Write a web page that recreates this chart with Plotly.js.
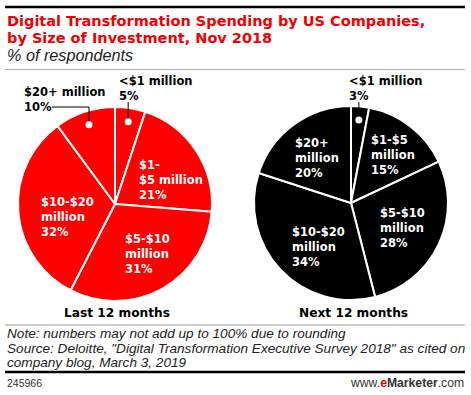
<!DOCTYPE html>
<html>
<head>
<meta charset="utf-8">
<script src="https://cdn.plot.ly/plotly-3.0.1.min.js"></script>
<style>html,body{margin:0;padding:0;background:#fff;}#chart{width:471px;height:395px;}</style>
</head>
<body>
<div id="chart"></div>
<script>
// ---- data ----
const categories = ["<$1 million", "$1-$5 million", "$5-$10 million", "$10-$20 million", "$20+ million"];
const last12 = [5, 21, 31, 32, 10];
const next12 = [3, 15, 28, 34, 20];
const last12Labels = ["<$1 million", "$1-<br>$5 million", "$5-$10<br>million", "$10-$20<br>million", "$20+ million"];
const next12Labels = ["<$1 million", "$1-$5<br>million", "$5-$10<br>million", "$10-$20<br>million", "$20+<br>million"];
const pieTitles = ["Last 12 months", "Next 12 months"];

// ---- geometry / style ----
const W = 471, H = 395;
const px = x => x / W;
const py = y => 1 - y / H;
const LBL = {family: "DejaVu Sans", size: 11.5, weight: 700};

const pies = [
  {vals: last12, labels: last12Labels, cx: 115, cy: 204, R: 97, color: "#ff0000", txt: "#ffffff",
   pos: [[117, 89], [137, 180], [123, 254], [39, 217], [22, 99]], outside: [0, 4]},
  {vals: next12, labels: next12Labels, cx: 351, cy: 203, R: 97, color: "#000000", txt: "#ffffff",
   pos: [[347, 89], [369, 155], [378, 228], [290, 247], [293, 158]], outside: [0]}
];

const traces = [];
const annotations = [];
const shapes = [];

pies.forEach((p, k) => {
  traces.push({
    type: "pie", values: p.vals, labels: categories, sort: false, direction: "clockwise", rotation: 0,
    marker: {colors: p.vals.map(() => p.color), line: {color: "#ffffff", width: 2}},
    textinfo: "none", hoverinfo: "none", showlegend: false,
    domain: {x: [px(p.cx - p.R), px(p.cx + p.R)], y: [py(p.cy + p.R), py(p.cy - p.R)]}
  });
  const total = p.vals.reduce((a, b) => a + b, 0);
  let cum = 0;
  p.vals.forEach((v, i) => {
    const mid = (cum + v / 2) / total * 2 * Math.PI;
    cum += v;
    const isOut = p.outside.indexOf(i) >= 0;
    annotations.push({
      xref: "paper", yref: "paper", x: px(p.pos[i][0]), y: py(p.pos[i][1]),
      xanchor: "left", yanchor: "middle", align: "left", showarrow: false,
      text: p.labels[i] + "<br>" + v + "%",
      font: Object.assign({}, LBL, {color: isOut ? "#000000" : p.txt})
    });
    if (isOut) {
      const dx = p.cx + 0.86 * p.R * Math.sin(mid);
      const dy = p.cy - 0.86 * p.R * Math.cos(mid);
      if (i === 0) {
        shapes.push({type: "line", xref: "paper", yref: "paper", x0: px(dx), x1: px(dx), y0: py(dy), y1: py(p.pos[i][1] + 13), line: {color: "#000", width: 1}});
      } else {
        const ly = p.pos[i][1] + 8;
        shapes.push({type: "path", xref: "paper", yref: "paper",
          path: "M" + px(52) + "," + py(ly) + " L" + px(dx) + "," + py(ly) + " L" + px(dx) + "," + py(dy),
          line: {color: "#000", width: 1}});
      }
      shapes.push({type: "circle", xref: "paper", yref: "paper", x0: px(dx - 3.5), x1: px(dx + 3.5), y0: py(dy + 3.5), y1: py(dy - 3.5),
        fillcolor: "#ffffff", line: {width: 0}});
    }
  });
  annotations.push({xref: "paper", yref: "paper", x: px(p.cx + 2), y: py(313), xanchor: "center", yanchor: "middle",
    showarrow: false, text: pieTitles[k], font: {family: "DejaVu Sans", size: 12.2, weight: 700, color: "#000"}});
});

// titles
const titleFont = {family: "DejaVu Sans", size: 14.5, weight: 700, color: "#f00000"};
annotations.push({xref: "paper", yref: "paper", x: px(5), y: py(21), xanchor: "left", yanchor: "middle", showarrow: false,
  text: "Digital Transformation Spending by US Companies,", font: titleFont});
annotations.push({xref: "paper", yref: "paper", x: px(5), y: py(38), xanchor: "left", yanchor: "middle", showarrow: false,
  text: "by Size of Investment, Nov 2018", font: titleFont});
annotations.push({xref: "paper", yref: "paper", x: px(5), y: py(55.5), xanchor: "left", yanchor: "middle", showarrow: false,
  text: "<i>% of respondents</i>", font: {family: "Liberation Sans", size: 16.2, color: "#222"}});

// footnotes
const noteFont = {family: "Liberation Sans", size: 13.6, color: "#222"};
const notes = ["Note: numbers may not add up to 100% due to rounding",
  "Source: Deloitte, \"Digital Transformation Executive Survey 2018\" as cited on",
  "company blog, March 3, 2019"];
notes.forEach((t, i) => annotations.push({xref: "paper", yref: "paper", x: px(5), y: py(333.5 + 14.7 * i), xanchor: "left", yanchor: "middle",
  showarrow: false, text: "<i>" + t + "</i>", font: noteFont}));
annotations.push({xref: "paper", yref: "paper", x: px(5), y: py(382.5), xanchor: "left", yanchor: "middle", showarrow: false,
  text: "245966", font: {family: "Liberation Sans", size: 10.5, color: "#333"}});
annotations.push({xref: "paper", yref: "paper", x: px(466), y: py(382.5), xanchor: "right", yanchor: "middle", showarrow: false,
  text: "www.<b><span style=\"color:#e00000\">e</span>Marketer</b>.com", font: {family: "Liberation Sans", size: 12.2, color: "#333"}});

// rules
shapes.push({type: "line", xref: "paper", yref: "paper", x0: px(5), x1: px(465), y0: py(7), y1: py(7), line: {color: "#000", width: 2.5}});
shapes.push({type: "line", xref: "paper", yref: "paper", x0: px(5), x1: px(465), y0: py(69.5), y1: py(69.5), line: {color: "#aaaaaa", width: 1}});
shapes.push({type: "line", xref: "paper", yref: "paper", x0: px(5), x1: px(465), y0: py(325), y1: py(325), line: {color: "#999999", width: 1.2}});
shapes.push({type: "line", xref: "paper", yref: "paper", x0: px(5), x1: px(465), y0: py(372), y1: py(372), line: {color: "#000", width: 2.5}});

Plotly.newPlot("chart", traces, {
  width: W, height: H, margin: {l: 0, r: 0, t: 0, b: 0},
  paper_bgcolor: "#ffffff", plot_bgcolor: "#ffffff",
  annotations: annotations, shapes: shapes, showlegend: false
}, {staticPlot: true, displayModeBar: false});
</script>
</body>
</html>
